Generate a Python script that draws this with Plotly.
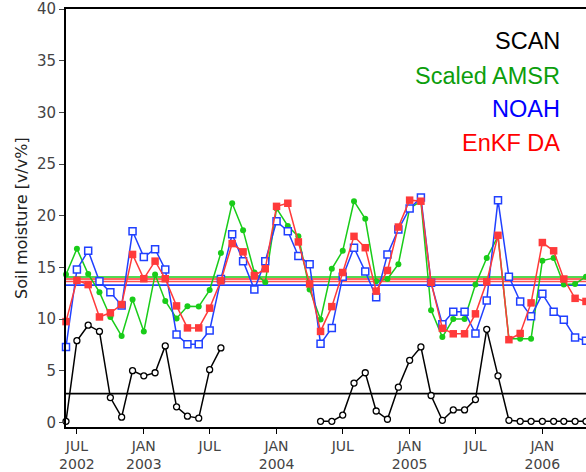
import plotly.graph_objects as go
import pandas as pd

# ---------------- data ----------------
months = pd.date_range("2002-06-01", periods=48, freq="MS")

scan = [0.1, 7.9, 9.4, 8.8, 2.4, 0.5, 5.0, 4.5, 4.8, 7.4, 1.5, 0.6, 0.4, 5.1, 7.2,
        None, None, None, None, None, None, None, None,
        0.1, 0.1, 0.7, 3.8, 4.8, 1.1, 0.3, 3.4, 6.0, 7.3, 2.6, 0.2, 1.2, 1.2, 2.2,
        9.0, 4.5, 0.2, 0.1, 0.1, 0.1, 0.1, 0.1, 0.1, 0.1]

amsr = [14.3, 16.8, 14.35, 12.6, 10.2, 8.35, 11.9, 8.8, 14.3, 11.75, 10.06, 11.24,
        11.2, 12.8, 16.4, 21.2, 18.6, 14.5, 13.55, 20.7, 19.0, 18.0, 12.86, 9.95,
        14.86, 16.6, 21.4, 19.7, 13.65, 13.87, 15.3, 20.7, 21.4, 10.86, 8.25, 10.0,
        10.0, 13.33, 15.9, 18.0, 8.1, 8.1, 8.1, 15.65, 15.9, 13.33, 13.4, 14.1]

noah = [7.3, 14.8, 16.6, 13.65, 12.6, 11.3, 18.5, 16.0, 16.76, 14.8, 8.5, 7.55,
        7.55, 8.9, 13.87, 18.2, 15.6, 12.86, 15.6, 19.46, 18.5, 16.1, 15.3, 7.6,
        9.14, 14.1, 16.9, 14.6, 12.1, 16.25, 18.67, 20.7, 21.75, 13.5, 9.5, 10.7,
        10.7, 8.6, 11.8, 21.5, 14.1, 11.7, 10.26, 12.44, 10.7, 9.94, 8.2, 7.9]

enkf = [9.75, 13.75, 13.33, 10.2, 10.6, 11.4, 16.25, 13.9, 15.6, 13.9, 11.27, 9.14,
        9.14, 11.05, 13.7, 17.3, 16.5, 14.2, 14.86, 20.9, 21.2, 17.46, 13.4, 8.8,
        11.2, 14.5, 18.0, 16.9, 12.7, 14.7, 18.9, 21.5, 21.4, 13.55, 9.1, 8.57,
        8.57, 10.5, 13.6, 18.1, 8.0, 8.6, 11.56, 17.4, 16.6, 13.87, 12.0, 11.7]

# horizontal reference (mean) levels
mean_levels = [2.78, 14.07, 13.87, 13.63, 13.28]
mean_colors = ["black", "#19cc19", "#ff3030", "#ff5050", "#2040ff"]

tick_dates = ["2002-07-01", "2003-01-01", "2003-07-01", "2004-01-01",
              "2004-07-01", "2005-01-01", "2005-07-01", "2006-01-01"]
tick_text = ["JUL<br>2002", "JAN<br>2003", "JUL", "JAN<br>2004",
             "JUL", "JAN<br>2005", "JUL", "JAN<br>2006"]

legend_names = ["SCAN", "Scaled AMSR", "NOAH", "EnKF DA"]
legend_colors = ["black", "#0c9e0c", "#0000ff", "#ff0000"]

# ---------------- figure ----------------
fig = go.Figure()

# mean lines
for lvl, col in zip(mean_levels, mean_colors):
    fig.add_shape(type="line", xref="paper", x0=0, x1=1, yref="y", y0=lvl, y1=lvl,
                  line=dict(color=col, width=1.6), layer="below")

fig.add_trace(go.Scatter(x=months, y=amsr, mode="lines+markers",
                         line=dict(color="#19cc19", width=1.5),
                         marker=dict(symbol="circle", size=6, color="#19cc19"),
                         cliponaxis=False))
fig.add_trace(go.Scatter(x=months, y=noah, mode="lines+markers",
                         line=dict(color="#2040ff", width=1.5),
                         marker=dict(symbol="square", size=7, color="white",
                                     line=dict(color="#2040ff", width=1.5)),
                         cliponaxis=False))
fig.add_trace(go.Scatter(x=months, y=enkf, mode="lines+markers",
                         line=dict(color="#ff3a3a", width=1.5),
                         marker=dict(symbol="square", size=7.5, color="#ff3a3a"),
                         cliponaxis=False))
fig.add_trace(go.Scatter(x=months, y=scan, mode="lines+markers",
                         line=dict(color="black", width=1.5),
                         marker=dict(symbol="circle", size=6, color="white",
                                     line=dict(color="black", width=1.3)),
                         connectgaps=False, cliponaxis=False))

# text legend
legend_y = [42.5, 77.5, 111.5, 145.5]
for name, col, yp in zip(legend_names, legend_colors, legend_y):
    fig.add_annotation(text=name, xref="paper", yref="paper",
                       x=(562 - 66) / 520, y=1 - (yp - 9.5) / 425.5,
                       xanchor="right", yanchor="middle", showarrow=False,
                       font=dict(family="Liberation Sans, Arial", size=23.5, color=col))

# y axis title
fig.add_annotation(text="Soil moisture [v/v%]", xref="paper", yref="paper",
                   x=(21 - 66) / 520, y=0.5, textangle=-90, showarrow=False,
                   xanchor="center", yanchor="middle",
                   font=dict(family="DejaVu Sans", size=16, color="#222"))

fig.update_layout(
    width=586, height=472,
    margin=dict(l=66, r=0, t=9, b=37),
    plot_bgcolor="white", paper_bgcolor="white",
    showlegend=False,
    font=dict(family="DejaVu Sans", size=14, color="#444"),
    xaxis=dict(range=["2002-06-01", "2006-05-01"], tickvals=tick_dates, ticktext=tick_text,
               showline=True, linecolor="black", linewidth=2, mirror=True,
               ticks="outside", ticklen=5, tickcolor="black", showgrid=False, zeroline=False,
               tickfont=dict(family="DejaVu Sans", size=14, color="#444")),
    yaxis=dict(range=[-0.45, 40], dtick=5, showline=True, linecolor="black", linewidth=2,
               ticks="outside", ticklen=5, tickcolor="#444", showgrid=False, zeroline=False,
               tickfont=dict(family="DejaVu Sans", size=15, color="#444")),
)

fig.write_html("out.html")
